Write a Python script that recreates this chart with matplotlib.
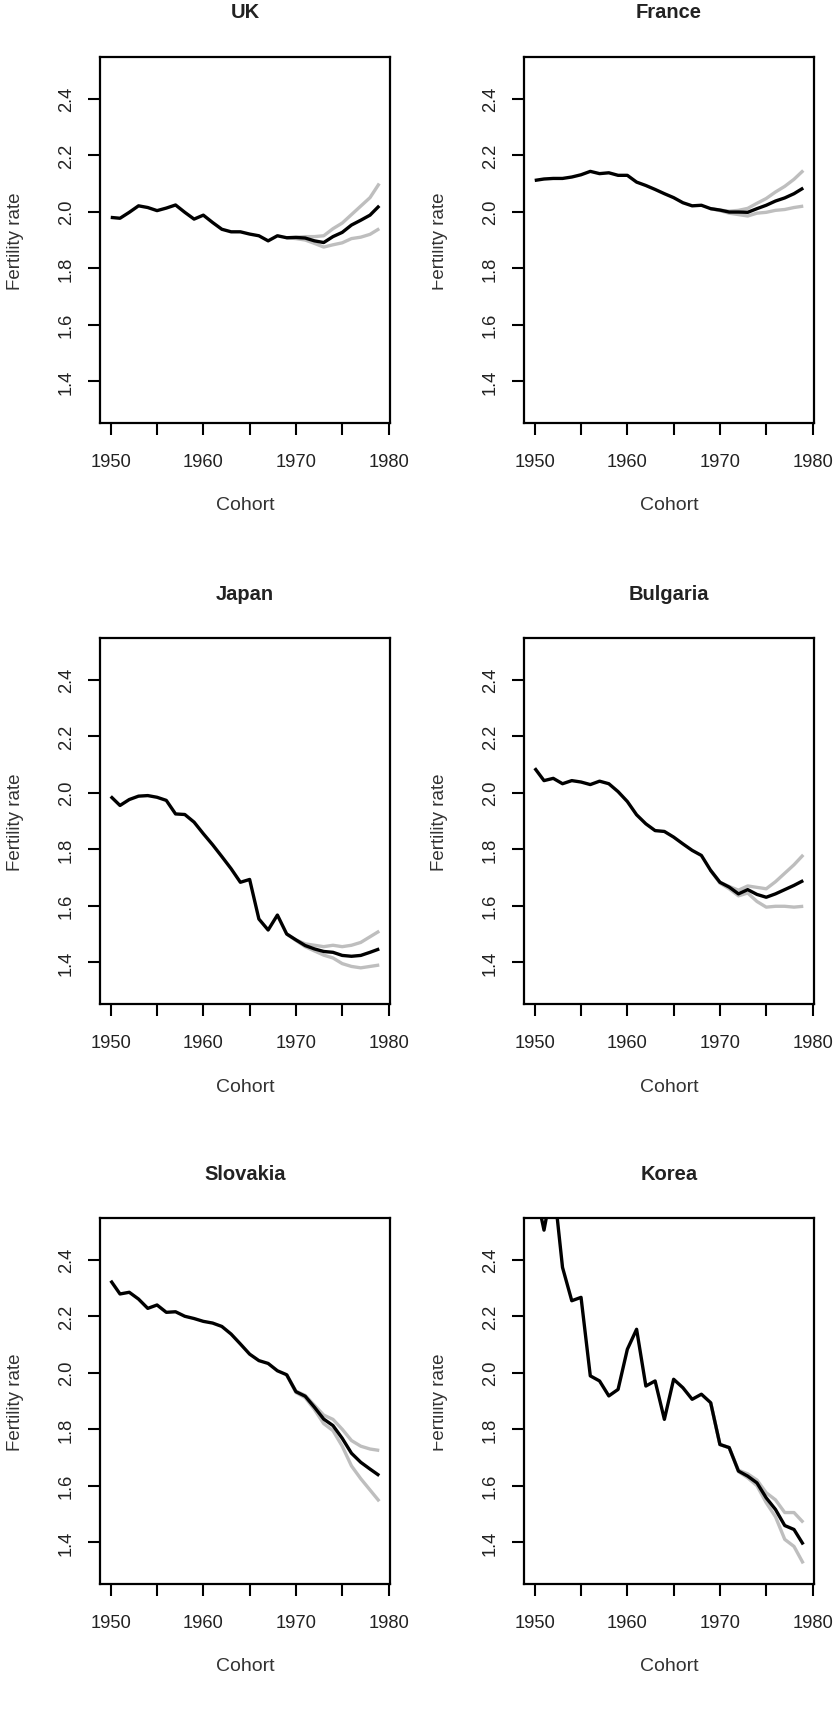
import numpy as np
import matplotlib
matplotlib.use("Agg")
import matplotlib.pyplot as plt
from matplotlib.transforms import Bbox

plt.rcParams['font.family'] = ['Liberation Sans', 'DejaVu Sans']

# ------------------ datos ------------------

cohorts = [1950, 1951, 1952, 1953, 1954, 1955, 1956, 1957, 1958, 1959,
           1960, 1961, 1962, 1963, 1964, 1965, 1966, 1967, 1968, 1969,
           1970, 1971, 1972, 1973, 1974, 1975, 1976, 1977, 1978, 1979]
band_cohorts = [1969, 1970, 1971, 1972, 1973, 1974, 1975, 1976, 1977, 1978, 1979]

uk_rate = [1.980, 1.977, 1.998, 2.021, 2.015, 2.004, 2.013, 2.024, 1.998, 1.974,
           1.988, 1.962, 1.938, 1.929, 1.929, 1.921, 1.915, 1.897, 1.915, 1.908,
           1.909, 1.907, 1.897, 1.891, 1.912, 1.927, 1.953, 1.970, 1.988, 2.021]
uk_hi = [1.908, 1.910, 1.912, 1.912, 1.915, 1.940, 1.960, 1.990, 2.020, 2.050, 2.100]
uk_lo = [1.908, 1.905, 1.900, 1.888, 1.875, 1.883, 1.890, 1.905, 1.910, 1.920, 1.940]

france_rate = [2.111, 2.116, 2.118, 2.118, 2.123, 2.131, 2.143, 2.135, 2.138, 2.129,
               2.129, 2.105, 2.093, 2.079, 2.064, 2.050, 2.032, 2.021, 2.023, 2.011,
               2.006, 1.999, 1.999, 1.998, 2.011, 2.023, 2.038, 2.049, 2.064, 2.084]
france_hi = [2.011, 2.006, 2.002, 2.005, 2.012, 2.030, 2.047, 2.070, 2.090, 2.115, 2.146]
france_lo = [2.011, 2.004, 1.995, 1.990, 1.985, 1.995, 1.998, 2.005, 2.008, 2.015, 2.020]

japan_rate = [1.987, 1.955, 1.976, 1.988, 1.990, 1.984, 1.973, 1.925, 1.923, 1.896,
              1.855, 1.816, 1.774, 1.731, 1.683, 1.693, 1.553, 1.514, 1.567, 1.500,
              1.479, 1.459, 1.447, 1.438, 1.435, 1.424, 1.421, 1.424, 1.435, 1.447]
japan_hi = [1.500, 1.479, 1.465, 1.460, 1.455, 1.460, 1.455, 1.460, 1.470, 1.490, 1.510]
japan_lo = [1.500, 1.477, 1.455, 1.440, 1.425, 1.415, 1.395, 1.385, 1.380, 1.385, 1.390]

bulgaria_rate = [2.087, 2.043, 2.051, 2.032, 2.043, 2.038, 2.029, 2.041, 2.032, 2.004,
                 1.969, 1.922, 1.890, 1.866, 1.863, 1.843, 1.819, 1.796, 1.778, 1.725,
                 1.683, 1.666, 1.642, 1.657, 1.640, 1.630, 1.642, 1.657, 1.672, 1.689]
bulgaria_hi = [1.725, 1.683, 1.668, 1.655, 1.670, 1.665, 1.660, 1.685, 1.715, 1.745, 1.780]
bulgaria_lo = [1.725, 1.680, 1.660, 1.635, 1.645, 1.615, 1.595, 1.598, 1.598, 1.595, 1.598]

slovakia_rate = [2.326, 2.279, 2.285, 2.261, 2.228, 2.240, 2.214, 2.216, 2.200, 2.192,
                 2.182, 2.176, 2.164, 2.137, 2.102, 2.066, 2.043, 2.033, 2.007, 1.993,
                 1.933, 1.917, 1.878, 1.836, 1.813, 1.768, 1.715, 1.683, 1.659, 1.636]
slovakia_hi = [1.993, 1.935, 1.920, 1.885, 1.850, 1.835, 1.800, 1.760, 1.740, 1.730, 1.725]
slovakia_lo = [1.993, 1.930, 1.912, 1.870, 1.820, 1.795, 1.740, 1.670, 1.625, 1.585, 1.545]

korea_rate = [2.660, 2.505, 2.680, 2.373, 2.255, 2.267, 1.989, 1.971, 1.918, 1.941,
              2.083, 2.154, 1.953, 1.971, 1.835, 1.977, 1.947, 1.906, 1.924, 1.894,
              1.746, 1.735, 1.652, 1.634, 1.610, 1.557, 1.516, 1.459, 1.445, 1.392]
korea_hi = [1.894, 1.746, 1.735, 1.655, 1.642, 1.620, 1.575, 1.550, 1.505, 1.505, 1.470]
korea_lo = [1.894, 1.746, 1.735, 1.650, 1.628, 1.600, 1.540, 1.490, 1.410, 1.385, 1.325]

countries = ["UK", "France", "Japan", "Bulgaria", "Slovakia", "Korea"]
rates = [uk_rate, france_rate, japan_rate, bulgaria_rate, slovakia_rate, korea_rate]
highs = [uk_hi, france_hi, japan_hi, bulgaria_hi, slovakia_hi, korea_hi]
lows = [uk_lo, france_lo, japan_lo, bulgaria_lo, slovakia_lo, korea_lo]

x_ticks = [1950, 1955, 1960, 1965, 1970, 1975, 1980]
x_labels = ["1950", "", "1960", "", "1970", "", "1980"]
y_ticks = [1.4, 1.6, 1.8, 2.0, 2.2, 2.4]
y_labels = ["1.4", "1.6", "1.8", "2.0", "2.2", "2.4"]

# paneles cuya etiqueta del eje y sale recortada en el original
clipped_ylabel = {"France": 432, "Korea": 433}

# ------------------ figura ------------------

W, H = 834, 1731
fig = plt.figure(figsize=(W / 100, H / 100), dpi=100)

col_left = [100, 524]
row_top = [58, 639, 1219]
ax_w, ax_h = 290, 366

text_col = "#222222"

for i, name in enumerate(countries):
    r, c = divmod(i, 2)
    left = col_left[c]
    top = row_top[r]
    ax = fig.add_axes([left / W, 1 - (top + ax_h) / H, ax_w / W, ax_h / H])

    ax.plot(band_cohorts, highs[i], color="#bebebe", lw=2.4, solid_capstyle="butt", zorder=2)
    ax.plot(band_cohorts, lows[i], color="#bebebe", lw=2.4, solid_capstyle="butt", zorder=2)
    ax.plot(cohorts, rates[i], color="black", lw=2.4, solid_capstyle="butt", zorder=3)

    # rango al estilo de R (4% extra)
    ax.set_xlim(1950 - 29 * 0.04, 1979 + 29 * 0.04)
    ax.set_ylim(1.3 - 1.2 * 0.04, 2.5 + 1.2 * 0.04)

    ax.set_xticks(x_ticks)
    ax.set_xticklabels(x_labels)
    ax.set_yticks(y_ticks)
    ax.set_yticklabels(y_labels, rotation=90, va="center")
    ax.tick_params(direction="out", length=8.5, width=1.5, labelsize=13.2,
                   labelcolor=text_col, color="black")
    ax.tick_params(axis="x", pad=13)
    ax.tick_params(axis="y", pad=9.5)
    for sp in ax.spines.values():
        sp.set_linewidth(1.6)

    ax.set_title(name, fontsize=14.5, fontweight="bold", y=1 + 45 / ax_h, va="center",
                 pad=0, color=text_col)
    ax.set_xlabel("Cohort", fontsize=14, color="#333333")
    ax.xaxis.label.set_va("center")
    ax.xaxis.set_label_coords(0.5, -82 / ax_h)
    ax.set_ylabel("Fertility rate", fontsize=13.5, color="#333333")
    ax.yaxis.label.set_va("center")
    ax.yaxis.set_label_coords(-85 / ax_w, 0.5)

    if name in clipped_ylabel:
        x0 = clipped_ylabel[name]
        ax.yaxis.label.set_clip_on(True)
        ax.yaxis.label.set_clip_box(Bbox.from_extents(x0, 0, W, H))

fig.savefig("out.png", dpi=100)
